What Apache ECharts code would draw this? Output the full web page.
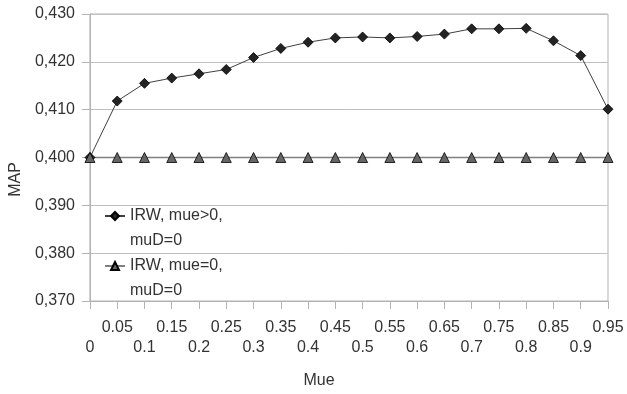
<!DOCTYPE html>
<html>
<head>
<meta charset="utf-8">
<script src="https://cdn.jsdelivr.net/npm/echarts@6/dist/echarts.min.js"></script>
<style>html,body{margin:0;padding:0;background:#fff}#c{width:627px;height:394px}</style>
</head>
<body>
<div id="c"></div>
<script>
const categories = ['0','0.05','0.1','0.15','0.2','0.25','0.3','0.35','0.4','0.45','0.5','0.55','0.6','0.65','0.7','0.75','0.8','0.85','0.9','0.95'];
const seriesNames = ['IRW, mue>0,\nmuD=0', 'IRW, mue=0,\nmuD=0'];
const irwMuePos = [0.4000,0.4118,0.4155,0.4166,0.4175,0.4184,0.4209,0.4228,0.4241,0.4250,0.4252,0.4250,0.4253,0.4258,0.4269,0.4269,0.4270,0.4244,0.4213,0.4101];
const irwMueZero = [0.400,0.400,0.400,0.400,0.400,0.400,0.400,0.400,0.400,0.400,0.400,0.400,0.400,0.400,0.400,0.400,0.400,0.400,0.400,0.400];
const yMin = 0.37, yMax = 0.43, yStep = 0.01;

const font = 'Liberation Sans, Arial, sans-serif';
const chart = echarts.init(document.getElementById('c'));
chart.setOption({
  animation: false,
  textStyle: { fontFamily: font },
  grid: { left: 87, right: 19, top: 14, bottom: 89, show: true, borderColor: '#b3b3b3', borderWidth: 1, containLabel: false },
  legend: {
    orient: 'vertical', left: 104, top: 178.5, padding: 0, itemWidth: 20, itemHeight: 10, itemGap: -25,
    textStyle: { fontFamily: font, fontSize: 16, color: '#333', lineHeight: 25 },
    formatter: n => '\n' + n,
    data: seriesNames
  },
  xAxis: {
    type: 'category', data: categories, boundaryGap: false,
    name: 'Mue', nameLocation: 'middle', nameGap: 72,
    nameTextStyle: { fontFamily: font, fontSize: 16, color: '#333', padding: [0, 60, 0, 0] },
    axisLine: { lineStyle: { color: '#b3b3b3' } },
    axisTick: { show: true, length: 8, interval: 0, alignWithLabel: true, lineStyle: { color: '#b3b3b3' } },
    axisLabel: {
      interval: 0, margin: 17, fontFamily: font, fontSize: 16, color: '#333', lineHeight: 20,
      formatter: (v, i) => (i % 2 === 0 ? '\n' + v : v)
    },
    splitLine: { show: false }
  },
  yAxis: {
    type: 'value', min: yMin, max: yMax, interval: yStep,
    name: 'MAP', nameLocation: 'middle', nameGap: 60,
    nameTextStyle: { fontFamily: font, fontSize: 16, color: '#333', padding: [0, 44, 0, 0] },
    axisLine: { show: true, lineStyle: { color: '#b3b3b3' } },
    axisTick: { show: true, length: 8, lineStyle: { color: '#b3b3b3' } },
    axisLabel: { margin: 15, fontFamily: font, fontSize: 16, color: '#333', formatter: v => v.toFixed(3).replace('.', ',') },
    splitLine: { show: true, lineStyle: { color: '#c0c0c0', width: 1 } }
  },
  series: [
    {
      name: seriesNames[0], type: 'line', data: irwMuePos,
      symbol: 'diamond', symbolSize: 10, showAllSymbol: true,
      lineStyle: { color: '#404040', width: 1 },
      itemStyle: { color: '#232323', borderColor: '#000', borderWidth: 0.8 }
    },
    {
      name: seriesNames[1], type: 'line', data: irwMueZero,
      symbol: 'triangle', symbolSize: 10, showAllSymbol: true,
      lineStyle: { color: '#808080', width: 1.5 },
      itemStyle: { color: '#666', borderColor: '#000', borderWidth: 0.8 }
    }
  ]
});
</script>
</body>
</html>
